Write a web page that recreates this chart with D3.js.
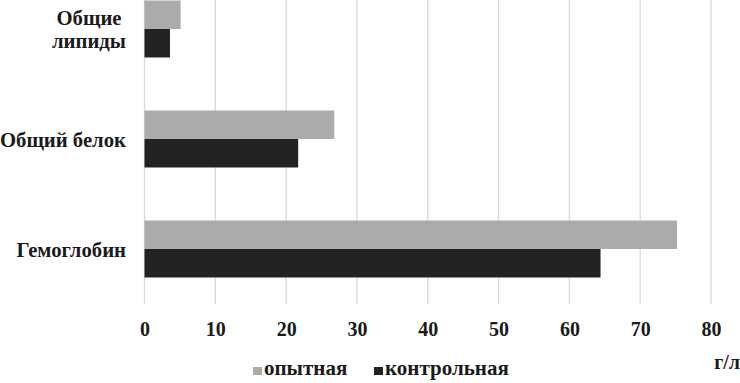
<!DOCTYPE html>
<html>
<head>
<meta charset="utf-8">
<script src="https://cdnjs.cloudflare.com/ajax/libs/d3/7.8.5/d3.min.js"></script>
<style>
    body { margin: 0; background: #fff; }
</style>
</head>
<body>
<svg id="chart"></svg>
<script>
const categories = ['Общие липиды', 'Общий белок', 'Гемоглобин'];
const categoryLines = [['Общие', 'липиды'], ['Общий белок'], ['Гемоглобин']];
const series = ['опытная', 'контрольная'];
const experimental = [5.1, 26.8, 75.2];
const control = [3.6, 21.7, 64.4];
const ticks = [0, 10, 20, 30, 40, 50, 60, 70, 80];
const unitLabel = 'г/л';

const width = 740;
const height = 383;
const colors = ['#ababab', '#222222'];
const font = '"Liberation Serif", "Times New Roman", serif';

const svg = d3.select('#chart')
    .attr('width', width)
    .attr('height', height);

function styleText(sel, size) {
    sel.style('font-family', font)
        .style('font-weight', 'bold')
        .style('font-size', size + 'px')
        .style('fill', '#1a1a1a');
}

const x = d3.scaleLinear()
    .domain([0, 80])
    .range([144.5, 711]);

const y = d3.scaleBand()
    .domain(categories)
    .range([-26, 304])
    .paddingInner(0.482)
    .paddingOuter(0.241);

const ySub = d3.scaleBand()
    .domain(series)
    .range([0, y.bandwidth()]);

// grid
svg.append('g')
    .selectAll('line')
    .data(ticks)
    .enter()
    .append('line')
    .attr('x1', d => x(d))
    .attr('x2', d => x(d))
    .attr('y1', 0)
    .attr('y2', 304)
    .attr('stroke', '#d9d9d9')
    .attr('stroke-width', 1.3);

// bars
const rows = categories.map((c, i) => ({ cat: c, values: [experimental[i], control[i]] }));

const group = svg.append('g')
    .selectAll('g')
    .data(rows)
    .enter()
    .append('g')
    .attr('transform', d => `translate(0,${y(d.cat)})`);

group.selectAll('rect')
    .data(d => d.values.map((v, i) => ({ s: series[i], v, i })))
    .enter()
    .append('rect')
    .attr('x', x(0))
    .attr('y', d => ySub(d.s))
    .attr('width', d => x(d.v) - x(0))
    .attr('height', ySub.bandwidth())
    .attr('fill', d => colors[d.i]);

// category labels
categories.forEach((c, i) => {
    const lines = categoryLines[i];
    const cy = y(c) + y.bandwidth() / 2;
    const t = svg.append('text')
        .attr('text-anchor', lines.length > 1 ? 'middle' : 'end');
    styleText(t, 20.7);
    lines.forEach((ln, j) => {
        t.append('tspan')
            .attr('x', lines.length > 1 ? 89 : 126)
            .attr('y', cy + 7.5 + (j - (lines.length - 1) / 2) * 23)
            .text(ln);
    });
});

// x axis labels
const xAxis = d3.axisBottom(x).tickValues(ticks).tickSize(0).tickPadding(0);
const ax = svg.append('g')
    .attr('transform', 'translate(0,322)')
    .call(xAxis);
ax.select('.domain').remove();
styleText(ax.selectAll('text'), 20);

// legend
const legendX = [253, 374];
series.forEach((s, i) => {
    svg.append('rect')
        .attr('x', legendX[i])
        .attr('y', 367)
        .attr('width', 9)
        .attr('height', 8)
        .attr('fill', colors[i]);
    const t = svg.append('text')
        .attr('x', legendX[i] + 11)
        .attr('y', 375)
        .text(s);
    styleText(t, 21);
});

const u = svg.append('text')
    .attr('x', 740)
    .attr('y', 369)
    .attr('text-anchor', 'end')
    .text(unitLabel);
styleText(u, 20);
</script>
</body>
</html>
